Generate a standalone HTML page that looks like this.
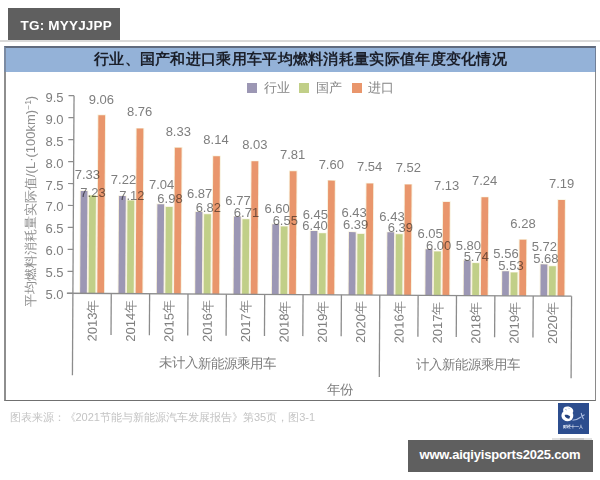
<!DOCTYPE html>
<html><head><meta charset="utf-8">
<style>
html,body{margin:0;padding:0;}
body{width:600px;height:480px;position:relative;overflow:hidden;background:#fff;font-family:"Liberation Sans",sans-serif;}
.abs{position:absolute;}
#tg{left:8px;top:8px;width:112px;height:31.5px;background:#5f5f5f;}
#tgt{left:20.5px;top:18px;color:#fff;font-weight:bold;font-size:13.5px;line-height:16px;letter-spacing:0.2px;}
#hl{left:0;top:40px;width:600px;height:1.5px;background:#d9d9d9;}
#box{left:4px;top:46px;width:592px;height:355px;box-sizing:border-box;border-left:2px solid #8e8e8e;border-right:1px solid #8a8a8a;border-bottom:1px solid #707070;border-top:0;}
#tb{left:4px;top:46px;width:592px;height:26px;box-sizing:border-box;background:#94b2d8;border-top:2px solid #606b7e;border-left:2px solid #7b8ba3;border-right:1px solid #6f7f98;}
#title{left:4px;top:49.2px;width:593px;text-align:center;font-size:15px;letter-spacing:0.3px;line-height:20px;font-weight:bold;color:#1b1f2a;}
.sq{width:10px;height:10px;top:83px;}
.lt{top:80px;font-size:12.5px;line-height:16px;color:#858585;}
svg{position:absolute;left:0;top:0;}
text{font-family:"Liberation Sans",sans-serif;}
.dl{mix-blend-mode:multiply;}
#src{left:9.5px;top:410px;font-size:11px;line-height:14px;color:#c4c4c4;white-space:nowrap;}
#logo{left:558px;top:403.3px;width:30.5px;height:30.3px;background:#2c4d8e;}
#bb{left:408px;top:440px;width:184.5px;height:31.5px;background:#5f5f5f;}
#bbt{left:419.5px;top:446.5px;color:#fff;font-weight:bold;font-size:13px;line-height:16px;white-space:nowrap;letter-spacing:-0.2px;}
</style></head><body>
<div class="abs" id="tg"></div>
<div class="abs" id="tgt">TG: MYYJJPP</div>
<div class="abs" id="hl"></div>
<div class="abs" id="box"></div>
<div class="abs" id="tb"></div>
<div class="abs" id="title">行业、国产和进口乘用车平均燃料消耗量实际值年度变化情况</div>
<div class="abs sq" style="left:247.3px;background:#9c97b4"></div>
<div class="abs lt" style="left:264px">行业</div>
<div class="abs sq" style="left:299.3px;background:#c1cf88"></div>
<div class="abs lt" style="left:315.8px">国产</div>
<div class="abs sq" style="left:351.7px;background:#e9966c"></div>
<div class="abs lt" style="left:368.3px">进口</div>
<svg width="600" height="480" viewBox="0 0 600 480">
<g transform="rotate(0.33 72.9 293.3)">
<rect x="79.23" y="190.39" width="8.5" height="102.91" fill="#f7f1dc"/>
<rect x="80.13" y="190.99" width="6.7" height="102.31" fill="#9c97b4"/>
<rect x="87.73" y="194.78" width="8.5" height="98.52" fill="#f7f1dc"/>
<rect x="88.63" y="195.38" width="6.7" height="97.92" fill="#c1cf88"/>
<rect x="96.43" y="114.43" width="8.5" height="178.87" fill="#f7f1dc"/>
<rect x="97.33" y="115.03" width="6.7" height="178.27" fill="#e9966c"/>
<rect x="117.59" y="195.22" width="8.5" height="98.08" fill="#f7f1dc"/>
<rect x="118.49" y="195.82" width="6.7" height="97.48" fill="#9c97b4"/>
<rect x="126.09" y="199.61" width="8.5" height="93.69" fill="#f7f1dc"/>
<rect x="126.99" y="200.21" width="6.7" height="93.09" fill="#c1cf88"/>
<rect x="134.79" y="127.60" width="8.5" height="165.70" fill="#f7f1dc"/>
<rect x="135.69" y="128.20" width="6.7" height="165.10" fill="#e9966c"/>
<rect x="155.95" y="203.12" width="8.5" height="90.18" fill="#f7f1dc"/>
<rect x="156.85" y="203.72" width="6.7" height="89.58" fill="#9c97b4"/>
<rect x="164.45" y="205.76" width="8.5" height="87.54" fill="#f7f1dc"/>
<rect x="165.35" y="206.36" width="6.7" height="86.94" fill="#c1cf88"/>
<rect x="173.15" y="146.48" width="8.5" height="146.82" fill="#f7f1dc"/>
<rect x="174.05" y="147.08" width="6.7" height="146.22" fill="#e9966c"/>
<rect x="194.31" y="210.59" width="8.5" height="82.71" fill="#f7f1dc"/>
<rect x="195.21" y="211.19" width="6.7" height="82.11" fill="#9c97b4"/>
<rect x="202.81" y="212.78" width="8.5" height="80.52" fill="#f7f1dc"/>
<rect x="203.71" y="213.38" width="6.7" height="79.92" fill="#c1cf88"/>
<rect x="211.51" y="154.82" width="8.5" height="138.48" fill="#f7f1dc"/>
<rect x="212.41" y="155.42" width="6.7" height="137.88" fill="#e9966c"/>
<rect x="232.67" y="214.98" width="8.5" height="78.32" fill="#f7f1dc"/>
<rect x="233.57" y="215.58" width="6.7" height="77.72" fill="#9c97b4"/>
<rect x="241.17" y="217.61" width="8.5" height="75.69" fill="#f7f1dc"/>
<rect x="242.07" y="218.21" width="6.7" height="75.09" fill="#c1cf88"/>
<rect x="249.87" y="159.65" width="8.5" height="133.65" fill="#f7f1dc"/>
<rect x="250.77" y="160.25" width="6.7" height="133.05" fill="#e9966c"/>
<rect x="271.03" y="222.44" width="8.5" height="70.86" fill="#f7f1dc"/>
<rect x="271.93" y="223.04" width="6.7" height="70.26" fill="#9c97b4"/>
<rect x="279.53" y="224.64" width="8.5" height="68.66" fill="#f7f1dc"/>
<rect x="280.43" y="225.24" width="6.7" height="68.06" fill="#c1cf88"/>
<rect x="288.23" y="169.31" width="8.5" height="123.99" fill="#f7f1dc"/>
<rect x="289.13" y="169.91" width="6.7" height="123.39" fill="#e9966c"/>
<rect x="309.39" y="229.03" width="8.5" height="64.27" fill="#f7f1dc"/>
<rect x="310.29" y="229.63" width="6.7" height="63.67" fill="#9c97b4"/>
<rect x="317.89" y="231.23" width="8.5" height="62.07" fill="#f7f1dc"/>
<rect x="318.79" y="231.83" width="6.7" height="61.47" fill="#c1cf88"/>
<rect x="326.59" y="178.53" width="8.5" height="114.77" fill="#f7f1dc"/>
<rect x="327.49" y="179.13" width="6.7" height="114.17" fill="#e9966c"/>
<rect x="347.75" y="229.91" width="8.5" height="63.39" fill="#f7f1dc"/>
<rect x="348.65" y="230.51" width="6.7" height="62.79" fill="#9c97b4"/>
<rect x="356.25" y="231.67" width="8.5" height="61.63" fill="#f7f1dc"/>
<rect x="357.15" y="232.27" width="6.7" height="61.03" fill="#c1cf88"/>
<rect x="364.95" y="181.17" width="8.5" height="112.13" fill="#f7f1dc"/>
<rect x="365.85" y="181.77" width="6.7" height="111.53" fill="#e9966c"/>
<rect x="386.11" y="229.91" width="8.5" height="63.39" fill="#f7f1dc"/>
<rect x="387.01" y="230.51" width="6.7" height="62.79" fill="#9c97b4"/>
<rect x="394.61" y="231.67" width="8.5" height="61.63" fill="#f7f1dc"/>
<rect x="395.51" y="232.27" width="6.7" height="61.03" fill="#c1cf88"/>
<rect x="403.31" y="182.05" width="8.5" height="111.25" fill="#f7f1dc"/>
<rect x="404.21" y="182.65" width="6.7" height="110.65" fill="#e9966c"/>
<rect x="424.47" y="246.59" width="8.5" height="46.71" fill="#f7f1dc"/>
<rect x="425.37" y="247.19" width="6.7" height="46.11" fill="#9c97b4"/>
<rect x="432.97" y="248.79" width="8.5" height="44.51" fill="#f7f1dc"/>
<rect x="433.87" y="249.39" width="6.7" height="43.91" fill="#c1cf88"/>
<rect x="441.67" y="199.17" width="8.5" height="94.13" fill="#f7f1dc"/>
<rect x="442.57" y="199.77" width="6.7" height="93.53" fill="#e9966c"/>
<rect x="462.83" y="257.57" width="8.5" height="35.73" fill="#f7f1dc"/>
<rect x="463.73" y="258.17" width="6.7" height="35.13" fill="#9c97b4"/>
<rect x="471.33" y="260.21" width="8.5" height="33.09" fill="#f7f1dc"/>
<rect x="472.23" y="260.81" width="6.7" height="32.49" fill="#c1cf88"/>
<rect x="480.03" y="194.34" width="8.5" height="98.96" fill="#f7f1dc"/>
<rect x="480.93" y="194.94" width="6.7" height="98.36" fill="#e9966c"/>
<rect x="501.19" y="268.11" width="8.5" height="25.19" fill="#f7f1dc"/>
<rect x="502.09" y="268.71" width="6.7" height="24.59" fill="#9c97b4"/>
<rect x="509.69" y="269.43" width="8.5" height="23.87" fill="#f7f1dc"/>
<rect x="510.59" y="270.03" width="6.7" height="23.27" fill="#c1cf88"/>
<rect x="518.39" y="236.50" width="8.5" height="56.80" fill="#f7f1dc"/>
<rect x="519.29" y="237.10" width="6.7" height="56.20" fill="#e9966c"/>
<rect x="539.55" y="261.08" width="8.5" height="32.22" fill="#f7f1dc"/>
<rect x="540.45" y="261.68" width="6.7" height="31.62" fill="#9c97b4"/>
<rect x="548.05" y="262.84" width="8.5" height="30.46" fill="#f7f1dc"/>
<rect x="548.95" y="263.44" width="6.7" height="29.86" fill="#c1cf88"/>
<rect x="556.75" y="196.54" width="8.5" height="96.76" fill="#f7f1dc"/>
<rect x="557.65" y="197.14" width="6.7" height="96.16" fill="#e9966c"/>
<line x1="72.9" y1="95.71" x2="72.9" y2="375.3" stroke="#8c8c8c" stroke-width="1.3"/>
<line x1="67.4" y1="293.30" x2="72.9" y2="293.30" stroke="#8c8c8c" stroke-width="1.2"/>
<line x1="67.4" y1="271.35" x2="72.9" y2="271.35" stroke="#8c8c8c" stroke-width="1.2"/>
<line x1="67.4" y1="249.39" x2="72.9" y2="249.39" stroke="#8c8c8c" stroke-width="1.2"/>
<line x1="67.4" y1="227.44" x2="72.9" y2="227.44" stroke="#8c8c8c" stroke-width="1.2"/>
<line x1="67.4" y1="205.48" x2="72.9" y2="205.48" stroke="#8c8c8c" stroke-width="1.2"/>
<line x1="67.4" y1="183.53" x2="72.9" y2="183.53" stroke="#8c8c8c" stroke-width="1.2"/>
<line x1="67.4" y1="161.57" x2="72.9" y2="161.57" stroke="#8c8c8c" stroke-width="1.2"/>
<line x1="67.4" y1="139.62" x2="72.9" y2="139.62" stroke="#8c8c8c" stroke-width="1.2"/>
<line x1="67.4" y1="117.66" x2="72.9" y2="117.66" stroke="#8c8c8c" stroke-width="1.2"/>
<line x1="67.4" y1="95.71" x2="72.9" y2="95.71" stroke="#8c8c8c" stroke-width="1.2"/>
<line x1="66.9" y1="293.3" x2="571.58" y2="293.3" stroke="#8c8c8c" stroke-width="1.3"/>
<line x1="111.26" y1="293.3" x2="111.26" y2="334.8" stroke="#8c8c8c" stroke-width="1.3"/>
<line x1="149.62" y1="293.3" x2="149.62" y2="334.8" stroke="#8c8c8c" stroke-width="1.3"/>
<line x1="187.98" y1="293.3" x2="187.98" y2="334.8" stroke="#8c8c8c" stroke-width="1.3"/>
<line x1="226.34" y1="293.3" x2="226.34" y2="334.8" stroke="#8c8c8c" stroke-width="1.3"/>
<line x1="264.70" y1="293.3" x2="264.70" y2="334.8" stroke="#8c8c8c" stroke-width="1.3"/>
<line x1="303.06" y1="293.3" x2="303.06" y2="334.8" stroke="#8c8c8c" stroke-width="1.3"/>
<line x1="341.42" y1="293.3" x2="341.42" y2="334.8" stroke="#8c8c8c" stroke-width="1.3"/>
<line x1="379.78" y1="293.3" x2="379.78" y2="375.3" stroke="#8c8c8c" stroke-width="1.3"/>
<line x1="418.14" y1="293.3" x2="418.14" y2="334.8" stroke="#8c8c8c" stroke-width="1.3"/>
<line x1="456.50" y1="293.3" x2="456.50" y2="334.8" stroke="#8c8c8c" stroke-width="1.3"/>
<line x1="494.86" y1="293.3" x2="494.86" y2="334.8" stroke="#8c8c8c" stroke-width="1.3"/>
<line x1="533.22" y1="293.3" x2="533.22" y2="334.8" stroke="#8c8c8c" stroke-width="1.3"/>
<line x1="571.58" y1="293.3" x2="571.58" y2="375.3" stroke="#8c8c8c" stroke-width="1.3"/>
<text transform="translate(96.88 341.3) rotate(-90)" font-size="13" fill="#7e7e7e">2013年</text>
<text transform="translate(135.24 341.3) rotate(-90)" font-size="13" fill="#7e7e7e">2014年</text>
<text transform="translate(173.60 341.3) rotate(-90)" font-size="13" fill="#7e7e7e">2015年</text>
<text transform="translate(211.96 341.3) rotate(-90)" font-size="13" fill="#7e7e7e">2016年</text>
<text transform="translate(250.32 341.3) rotate(-90)" font-size="13" fill="#7e7e7e">2017年</text>
<text transform="translate(288.68 341.3) rotate(-90)" font-size="13" fill="#7e7e7e">2018年</text>
<text transform="translate(327.04 341.3) rotate(-90)" font-size="13" fill="#7e7e7e">2019年</text>
<text transform="translate(365.40 341.3) rotate(-90)" font-size="13" fill="#7e7e7e">2020年</text>
<text transform="translate(403.76 341.3) rotate(-90)" font-size="13" fill="#7e7e7e">2016年</text>
<text transform="translate(442.12 341.3) rotate(-90)" font-size="13" fill="#7e7e7e">2017年</text>
<text transform="translate(480.48 341.3) rotate(-90)" font-size="13" fill="#7e7e7e">2018年</text>
<text transform="translate(518.84 341.3) rotate(-90)" font-size="13" fill="#7e7e7e">2019年</text>
<text transform="translate(557.20 341.3) rotate(-90)" font-size="13" fill="#7e7e7e">2020年</text>
<text x="217.7" y="366.8" font-size="13.4" fill="#7e7e7e" text-anchor="middle">未计入新能源乘用车</text>
<text x="468.5" y="366.8" font-size="13.4" fill="#7e7e7e" text-anchor="middle">计入新能源乘用车</text>
<text x="340.5" y="392.1" font-size="13.4" fill="#7e7e7e" text-anchor="middle">年份</text>
</g>
<text x="63.5" y="299.30" font-size="13" fill="#7e7e7e" text-anchor="end">5.0</text>
<text x="63.5" y="277.35" font-size="13" fill="#7e7e7e" text-anchor="end">5.5</text>
<text x="63.5" y="255.39" font-size="13" fill="#7e7e7e" text-anchor="end">6.0</text>
<text x="63.5" y="233.44" font-size="13" fill="#7e7e7e" text-anchor="end">6.5</text>
<text x="63.5" y="211.48" font-size="13" fill="#7e7e7e" text-anchor="end">7.0</text>
<text x="63.5" y="189.53" font-size="13" fill="#7e7e7e" text-anchor="end">7.5</text>
<text x="63.5" y="167.57" font-size="13" fill="#7e7e7e" text-anchor="end">8.0</text>
<text x="63.5" y="145.62" font-size="13" fill="#7e7e7e" text-anchor="end">8.5</text>
<text x="63.5" y="123.66" font-size="13" fill="#7e7e7e" text-anchor="end">9.0</text>
<text x="63.5" y="101.71" font-size="13" fill="#7e7e7e" text-anchor="end">9.5</text>
<text x="87.4" y="179.0" font-size="13" fill="#7e7e7e" text-anchor="middle" class="dl">7.33</text>
<text x="93.0" y="197.0" font-size="13" fill="#7e7e7e" text-anchor="middle" class="dl">7.23</text>
<text x="101.4" y="103.5" font-size="13" fill="#7e7e7e" text-anchor="middle" class="dl">9.06</text>
<text x="123.5" y="184.4" font-size="13" fill="#7e7e7e" text-anchor="middle" class="dl">7.22</text>
<text x="131.9" y="200.4" font-size="13" fill="#7e7e7e" text-anchor="middle" class="dl">7.12</text>
<text x="139.7" y="116.4" font-size="13" fill="#7e7e7e" text-anchor="middle" class="dl">8.76</text>
<text x="161.7" y="188.7" font-size="13" fill="#7e7e7e" text-anchor="middle" class="dl">7.04</text>
<text x="170.0" y="202.7" font-size="13" fill="#7e7e7e" text-anchor="middle" class="dl">6.98</text>
<text x="178.3" y="135.6" font-size="13" fill="#7e7e7e" text-anchor="middle" class="dl">8.33</text>
<text x="199.7" y="198.4" font-size="13" fill="#7e7e7e" text-anchor="middle" class="dl">6.87</text>
<text x="208.3" y="212.0" font-size="13" fill="#7e7e7e" text-anchor="middle" class="dl">6.82</text>
<text x="216.0" y="144.3" font-size="13" fill="#7e7e7e" text-anchor="middle" class="dl">8.14</text>
<text x="238.0" y="204.7" font-size="13" fill="#7e7e7e" text-anchor="middle" class="dl">6.77</text>
<text x="246.5" y="216.7" font-size="13" fill="#7e7e7e" text-anchor="middle" class="dl">6.71</text>
<text x="254.8" y="149.2" font-size="13" fill="#7e7e7e" text-anchor="middle" class="dl">8.03</text>
<text x="277.2" y="213.0" font-size="13" fill="#7e7e7e" text-anchor="middle" class="dl">6.60</text>
<text x="285.3" y="225.3" font-size="13" fill="#7e7e7e" text-anchor="middle" class="dl">6.55</text>
<text x="292.7" y="159.3" font-size="13" fill="#7e7e7e" text-anchor="middle" class="dl">7.81</text>
<text x="315.3" y="219.0" font-size="13" fill="#7e7e7e" text-anchor="middle" class="dl">6.45</text>
<text x="315.0" y="230.0" font-size="13" fill="#7e7e7e" text-anchor="middle" class="dl">6.40</text>
<text x="331.3" y="168.7" font-size="13" fill="#7e7e7e" text-anchor="middle" class="dl">7.60</text>
<text x="354.2" y="217.0" font-size="13" fill="#7e7e7e" text-anchor="middle" class="dl">6.43</text>
<text x="355.7" y="228.7" font-size="13" fill="#7e7e7e" text-anchor="middle" class="dl">6.39</text>
<text x="369.7" y="171.3" font-size="13" fill="#7e7e7e" text-anchor="middle" class="dl">7.54</text>
<text x="392.0" y="221.0" font-size="13" fill="#7e7e7e" text-anchor="middle" class="dl">6.43</text>
<text x="400.3" y="231.7" font-size="13" fill="#7e7e7e" text-anchor="middle" class="dl">6.39</text>
<text x="408.3" y="172.0" font-size="13" fill="#7e7e7e" text-anchor="middle" class="dl">7.52</text>
<text x="430.2" y="238.0" font-size="13" fill="#7e7e7e" text-anchor="middle" class="dl">6.05</text>
<text x="438.7" y="250.0" font-size="13" fill="#7e7e7e" text-anchor="middle" class="dl">6.00</text>
<text x="446.7" y="189.6" font-size="13" fill="#7e7e7e" text-anchor="middle" class="dl">7.13</text>
<text x="468.4" y="250.0" font-size="13" fill="#7e7e7e" text-anchor="middle" class="dl">5.80</text>
<text x="476.3" y="260.7" font-size="13" fill="#7e7e7e" text-anchor="middle" class="dl">5.74</text>
<text x="484.7" y="185.3" font-size="13" fill="#7e7e7e" text-anchor="middle" class="dl">7.24</text>
<text x="506.0" y="257.7" font-size="13" fill="#7e7e7e" text-anchor="middle" class="dl">5.56</text>
<text x="511.0" y="269.7" font-size="13" fill="#7e7e7e" text-anchor="middle" class="dl">5.53</text>
<text x="523.0" y="228.0" font-size="13" fill="#7e7e7e" text-anchor="middle" class="dl">6.28</text>
<text x="544.4" y="250.8" font-size="13" fill="#7e7e7e" text-anchor="middle" class="dl">5.72</text>
<text x="545.9" y="262.5" font-size="13" fill="#7e7e7e" text-anchor="middle" class="dl">5.68</text>
<text x="561.7" y="188.3" font-size="13" fill="#7e7e7e" text-anchor="middle" class="dl">7.19</text>
<text transform="translate(35 201.4) rotate(-90)" font-size="13" fill="#8e8e8e" text-anchor="middle"><tspan font-size="13">平均燃料消耗量实际值</tspan>/(L·(100km)<tspan font-size="8.5" dy="-4.5">−1</tspan><tspan dy="4.5">)</tspan></text>
</svg>
<div class="abs" id="src">图表来源：《2021节能与新能源汽车发展报告》第35页，图3-1</div>
<div class="abs" id="logo">
<svg width="30.5" height="30.3" viewBox="0 0 30.5 30.3" style="position:absolute;left:0;top:0">
<g transform="translate(-2 -2)"><path d="M8 6.5 C10 4.8 14 5.2 16 7.2 C17.6 8.8 17.6 10.8 16.6 12 C18 14 17.2 18 14.6 19.6 C11 21.2 6.4 19.6 5.6 16 C5.1 13.5 6 11.4 7.4 10.4 C6.9 9.3 7.1 7.6 8 6.5 Z" fill="#fff"/>
<path d="M8.6 14 C10.2 13.2 12.6 13.8 14.2 15.4 L13.2 17.8 C11 17.6 9 16.6 8.6 14 Z" fill="#24427e"/>
<path d="M9 8.2 L11 9.2 M12.5 6.8 L13.5 8" stroke="#9fb2d8" stroke-width="0.8"/>
<path d="M16.5 19.2 C19.5 19 22.5 18 25 16 M25.2 12 L26 15.3 L28.6 13.6 M26 15.3 L27.6 18.3" stroke="#a9bbe0" stroke-width="1.1" fill="none"/></g>
<text x="15.5" y="24.8" font-size="4.3" font-weight="bold" fill="#e9eef8" text-anchor="middle">财经十一人</text>
</svg>
</div>
<div class="abs" style="left:552px;top:438px;width:40px;height:2px;background:#e2e2e2"></div><div class="abs" style="left:560px;top:438px;width:24px;height:2px;background:#cbcbcb"></div>
<div class="abs" id="bb"></div>
<div class="abs" id="bbt">www.aiqiyisports2025.com</div>
</body></html>
